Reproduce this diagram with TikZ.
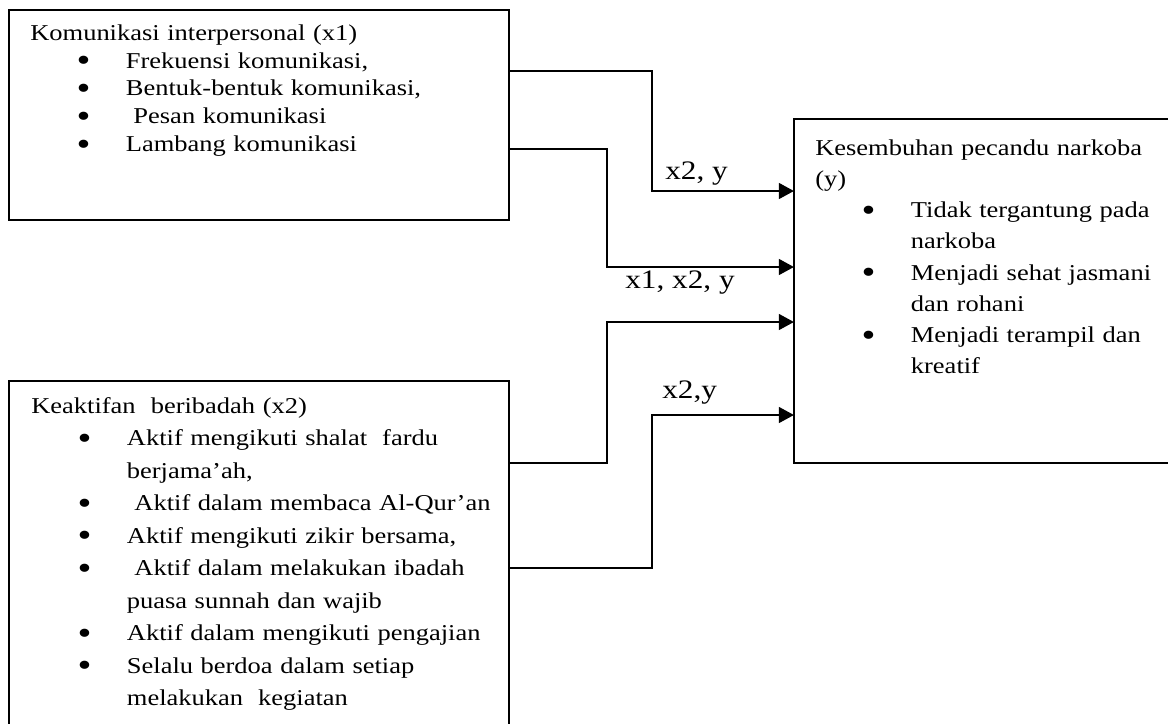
\documentclass[tikz,border=0pt]{standalone}
\usepackage{fontspec}
\setmainfont{Liberation Serif}[FakeStretch=1.17]
\usetikzlibrary{arrows.meta}
\newlength{\butirkiri}\setlength{\butirkiri}{33pt}
\newlength{\butirteks}\setlength{\butirteks}{68pt}
\def\butir#1{\par\noindent\hangindent=\butirteks\hangafter=1\hbox to\butirteks{\hspace*{\butirkiri}\smash{\raisebox{-2.6pt}{\scalebox{1.5}{\textbullet}}}\hfil}#1}
\tikzset{
	kotak/.style={draw, line width=1.3pt, anchor=north west, inner sep=0pt, outer sep=0pt},
	isi/.style={anchor=north west, inner sep=0pt, text width=14cm, align=left},
	panah/.style={line width=2pt, -{Triangle[length=10.7pt, width=11pt]}},
	keterangan/.style={anchor=base west, inner sep=0pt, font=\fontsize{19pt}{22pt}\selectfont}
}

\begin{document}
\begin{tikzpicture}[x=0.025cm, y=-0.025cm]
			%%%%% START %%%%%
			\useasboundingbox (0,0) rectangle (1168,723);
			
			% kotak
			\node[kotak, minimum width=12.5cm, minimum height=5.25cm] (komunikasi) at (9,10) {};
			\node[kotak, minimum width=12.5cm, minimum height=9.475cm] (ibadah) at (9,381) {};
			\node[kotak, minimum width=10.15cm, minimum height=8.6cm] (sembuh) at (794,119) {};
			
			% isi kotak
			\node[isi, font=\fontsize{16.1pt}{19.7pt}\selectfont] (teksx1) at (30,20.9) {\strut Komunikasi interpersonal (x1)
				\butir{Frekuensi komunikasi,}
				\butir{Bentuk-bentuk komunikasi,}
				\butir{\ Pesan komunikasi}
				\butir{Lambang komunikasi}\par};
			
			\node[isi, font=\fontsize{16.1pt}{23.1pt}\selectfont] (teksx2) at (31,390.3) {\strut Keaktifan\ \ beribadah (x2)
				\butir{Aktif mengikuti shalat\ \ fardu\newline berjama’ah,}
				\butir{\ Aktif dalam membaca Al-Qur’an}
				\butir{Aktif mengikuti zikir bersama,}
				\butir{\ Aktif dalam melakukan ibadah\newline puasa sunnah dan wajib}
				\butir{Aktif dalam mengikuti pengajian}
				\butir{Selalu berdoa dalam setiap\newline melakukan\ \ kegiatan}\par};
			
			\node[isi, font=\fontsize{16.1pt}{22.2pt}\selectfont] (teksy) at (815,133.2) {\strut Kesembuhan pecandu narkoba\newline (y)
				\butir{Tidak tergantung pada\newline narkoba}
				\butir{Menjadi sehat jasmani\newline dan rohani}
				\butir{Menjadi terampil dan\newline kreatif}\par};
			
			% panah
			\draw[panah] (komunikasi.east |- 0,71) -| (652,191) -- (sembuh.west |- 0,191);
			\draw[panah] (komunikasi.east |- 0,149) -| (607,267) -- (sembuh.west |- 0,267);
			\draw[panah] (ibadah.east |- 0,463) -| (607,322) -- (sembuh.west |- 0,322);
			\draw[panah] (ibadah.east |- 0,568) -| (652,415) -- (sembuh.west |- 0,415);
			
			% keterangan panah
			\node[keterangan] (ketatas) at (665,179) {x2, y};
			\node[keterangan] (kettengah) at (625,288) {x1, x2, y};
			\node[keterangan] (ketbawah) at (662,398) {x2,y};
			
			%%%%% END %%%%%
\end{tikzpicture}
\end{document}
